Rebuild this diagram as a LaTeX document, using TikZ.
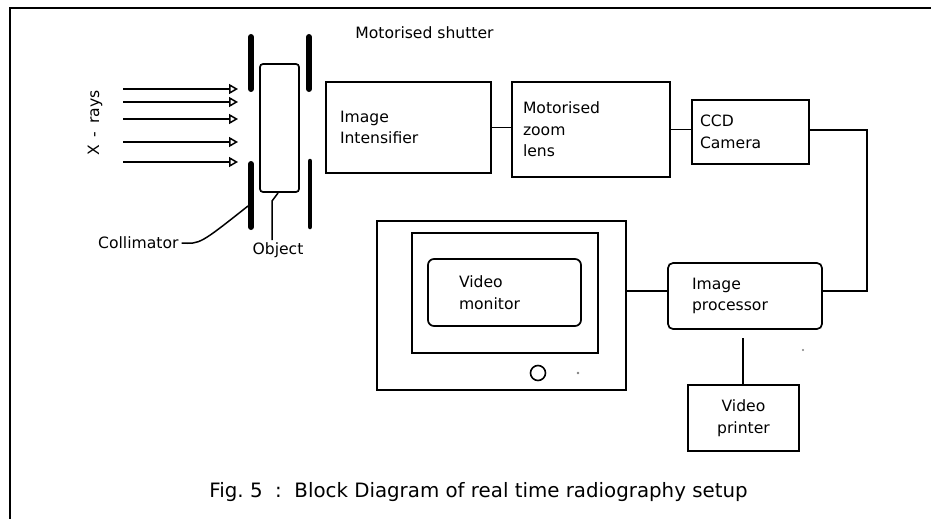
\documentclass[tikz,border=0pt]{standalone}
\usepackage{fontspec}
\setmainfont{DejaVu Sans}
\usetikzlibrary{arrows.meta}
\frenchspacing
\tikzset{
  lbl/.style={font=\fontsize{15.6}{21.5}\selectfont, inner sep=0pt},
  blk/.style={draw, line width=1.7pt, font=\fontsize{15.6}{21.5}\selectfont, align=left, inner ysep=0pt},
  wire/.style={line width=1.7pt},
  ray/.style={line width=1.5pt, -{Triangle[open, length=9pt, width=10pt, line width=1.5pt]}},
  bar/.style={line width=6pt, line cap=round},
  dotmark/.style={fill=gray, draw=none}
}
\begin{document}
\begin{tikzpicture}[x=1pt, y=-1pt]
\useasboundingbox (0,0) rectangle (931,519);
% frame
\draw[line width=2.4pt] (10,519) -- (10,8) -- (931,8);

% collimator / shutter bars
\coordinate (lt1) at (251,37); \coordinate (lt2) at (251,89);
\coordinate (lb1) at (251,164); \coordinate (lb2) at (251,227);
\coordinate (rt1) at (309,37); \coordinate (rt2) at (309,89);
\coordinate (rb1) at (310,161); \coordinate (rb2) at (310,227);
\draw[bar] (lt1) -- (lt2);
\draw[bar] (lb1) -- (lb2);
\draw[bar] (rt1) -- (rt2);
\draw[bar, line width=4.5pt] (rb1) -- (rb2);

% object
\node[draw, line width=1.7pt, rounded corners=3pt, minimum width=39pt, minimum height=128pt, inner sep=0pt] (obj) at (279.5,128) {};

% x-rays
\foreach \i/\y in {1/89,2/102,3/119,4/142,5/162}{
  \coordinate (s\i) at (123,\y);
  \coordinate (t\i) at (238,\y);
  \draw[ray] (s\i) -- (t\i);
}
\node[lbl, rotate=90] (xr) at (95,123) {X\hspace{8pt}-\hspace{8pt}rays};

% labels
\node[lbl] (shutter) at (424.5,33) {Motorised shutter};
\node[lbl, anchor=west] (coll) at (98,243) {Collimator};
\coordinate (collend) at (248,206);
\draw[line width=1.5pt] ([xshift=3pt]coll.east) .. controls (200,244) .. (collend);
\node[lbl] (objl) at (278,250) {Object};
\coordinate (ol1) at (272,240);
\coordinate (ol2) at (272,201);
\coordinate (ol3) at (278,193);
\draw[line width=1.5pt] (ol1) -- (ol2) -- (ol3);

% blocks
\node[blk, minimum width=165pt, minimum height=91pt, inner xsep=14pt, text width=137pt] (ii) at (408.5,127.5) {Image\\Intensifier};
\node[blk, minimum width=158pt, minimum height=95pt, inner xsep=11pt, text width=136pt] (mzl) at (591,129.5) {Motorised\\zoom\\lens};
\node[blk, minimum width=117pt, minimum height=64pt, inner xsep=8pt, text width=101pt] (ccd) at (750.5,132) {CCD\\Camera};
\node[blk, rounded corners=5pt, minimum width=154pt, minimum height=66pt, inner xsep=24pt, text width=106pt] (ip) at (745,296) {Image\\processor};
\node[blk, align=center, minimum width=111pt, minimum height=66pt, inner xsep=5pt, text width=101pt] (vp) at (743.5,418) {Video\\printer};

% monitor
\node[draw, line width=1.8pt, minimum width=249pt, minimum height=169pt, inner sep=0pt] (mon) at (501.5,305.5) {};
\node[draw, line width=1.8pt, minimum width=186pt, minimum height=120pt, inner sep=0pt] (moninner) at (505,293) {};
\node[blk, rounded corners=6pt, minimum width=153pt, minimum height=67pt, inner xsep=31pt, text width=91pt] (screen) at (504.5,292.5) {Video\\monitor};
\node[draw, line width=1.6pt, circle, minimum size=15pt, inner sep=0pt] (knob) at (538,373) {};
\fill[dotmark] (578,373) circle (1.3pt);
\fill[dotmark] (803,350) circle (1.1pt);

% connectors
\draw[wire] (ii.east) -- (ii.east -| mzl.west);
\draw[wire] (mzl.east) -- (mzl.east -| ccd.west);
\coordinate (ipw) at ([yshift=5pt]ip.west);
\coordinate (ipe) at ([yshift=5pt]ip.east);
\coordinate (ccde) at ([yshift=2pt]ccd.east);
\coordinate (rtx) at (867,0);
\draw[wire] (ccde) -- (ccde -| rtx) |- (ipe);
\draw[wire] (ipw -| mon.east) -- (ipw);
\coordinate (pt) at (743,338);
\draw[wire] (pt) -- (pt |- vp.north);

% caption
\node[font=\fontsize{19.8}{24}\selectfont, inner sep=0pt] (cap) at (478.5,492) {Fig. 5\ \ :\ \ Block Diagram of real time radiography setup};
\end{tikzpicture}
\end{document}
